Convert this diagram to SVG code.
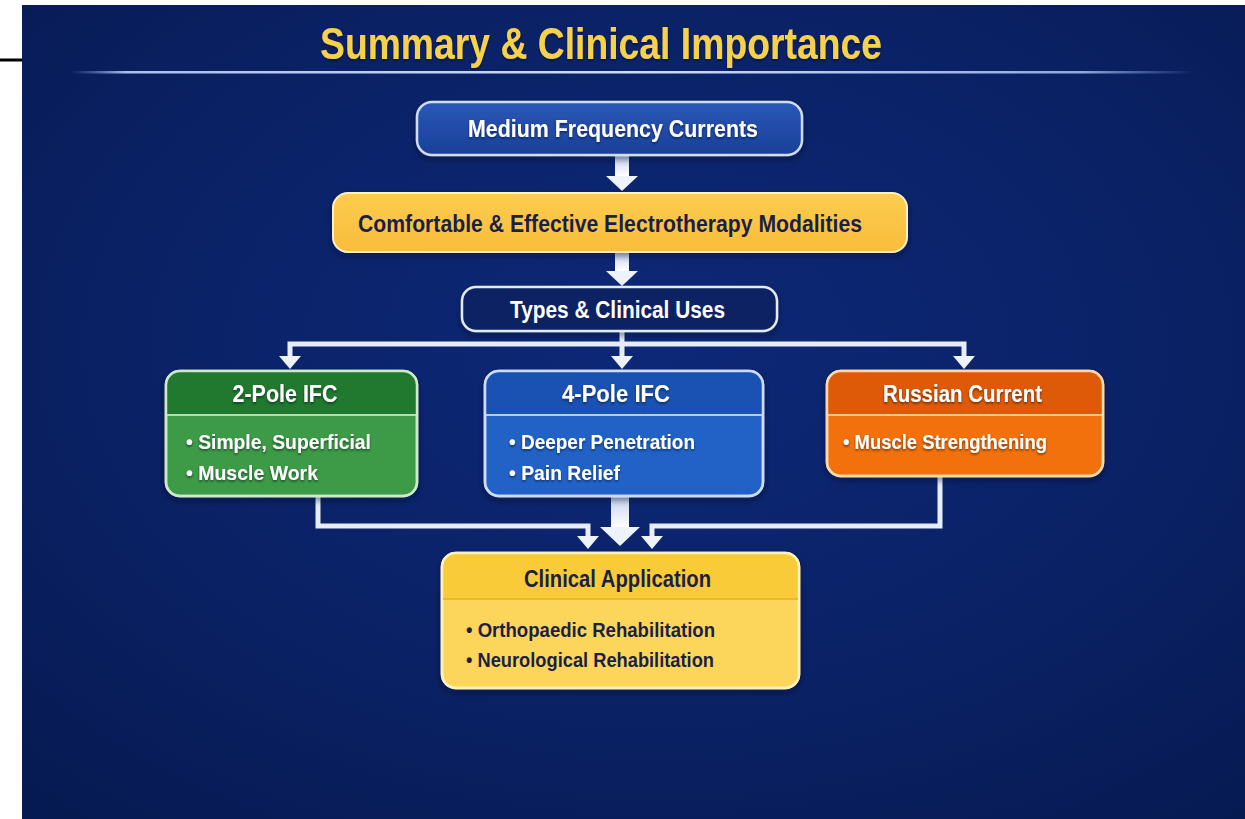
<svg xmlns="http://www.w3.org/2000/svg" width="1245" height="819" viewBox="0 0 1245 819">
  <defs>
    <radialGradient id="bg" cx="0.52" cy="0.42" r="0.75">
      <stop offset="0" stop-color="#0d2878"/>
      <stop offset="0.6" stop-color="#0a2164"/>
      <stop offset="1" stop-color="#061a52"/>
    </radialGradient>
    <linearGradient id="rule" x1="0" y1="0" x2="1" y2="0">
      <stop offset="0" stop-color="#7a9ad8" stop-opacity="0"/>
      <stop offset="0.05" stop-color="#a8c0ee"/>
      <stop offset="0.5" stop-color="#d0dcf8"/>
      <stop offset="0.9" stop-color="#8fa8e0"/>
      <stop offset="1" stop-color="#7a9ad8" stop-opacity="0"/>
    </linearGradient>
    <linearGradient id="gBlue1" x1="0" y1="0" x2="0" y2="1">
      <stop offset="0" stop-color="#2a58b8"/>
      <stop offset="1" stop-color="#1a3f98"/>
    </linearGradient>
    <linearGradient id="gYellow" x1="0" y1="0" x2="0" y2="1">
      <stop offset="0" stop-color="#fdcc50"/>
      <stop offset="1" stop-color="#f8bd3a"/>
    </linearGradient>
    <linearGradient id="gArrow" x1="0" y1="0" x2="0" y2="1">
      <stop offset="0" stop-color="#c8d4ee"/>
      <stop offset="1" stop-color="#ffffff"/>
    </linearGradient>
    <filter id="shadow" x="-10%" y="-20%" width="120%" height="150%">
      <feDropShadow dx="0" dy="3" stdDeviation="3" flood-color="#000820" flood-opacity="0.5"/>
    </filter>
    <filter id="tshadow" x="-5%" y="-20%" width="110%" height="150%">
      <feDropShadow dx="0" dy="1.5" stdDeviation="1" flood-color="#000820" flood-opacity="0.6"/>
    </filter>
  </defs>
  <style>
    text { font-family: "Liberation Sans", Arial, sans-serif; font-weight: bold; }
    .title { font-size: 44px; fill: #f6d14c; }
    .head { font-size: 23px; text-anchor: middle; }
    .w { fill: #ffffff; }
    .d { fill: #1c1f45; }
    .bul { font-size: 21px; }
    .conn { fill: none; stroke: #e6ecf8; stroke-width: 5; stroke-linejoin: miter; }
    .ah { fill: #eef2fb; }
  </style>

  <rect x="0" y="0" width="1245" height="819" fill="#ffffff"/>
  <rect x="22" y="5" width="1223" height="814" fill="url(#bg)"/>
  <line x1="0" y1="60" x2="22" y2="60" stroke="#000000" stroke-width="3"/>

  <g id="title">
    <text class="title" x="320" y="59" textLength="562" lengthAdjust="spacingAndGlyphs" filter="url(#tshadow)">Summary &amp; Clinical Importance</text>
    <rect x="70" y="71" width="1125" height="2.5" fill="url(#rule)"/>
  </g>

  <g id="connectors">
    <rect x="615" y="156" width="14" height="20" fill="url(#gArrow)"/>
    <polygon class="ah" points="606,176 638,176 622,191"/>
    <rect x="615" y="253" width="14" height="18" fill="url(#gArrow)"/>
    <polygon class="ah" points="606,271 638,271 622,286"/>
    <polyline class="conn" points="622,331 622,344"/>
    <polyline class="conn" points="290,357 290,344 964,344 964,357"/>
    <line class="conn" x1="622" y1="344" x2="622" y2="357"/>
    <polygon class="ah" points="279,356 301,356 290,369"/>
    <polygon class="ah" points="611,356 633,356 622,369"/>
    <polygon class="ah" points="953,356 975,356 964,369"/>
    <polyline class="conn" points="318,497 318,526 588,526 588,537"/>
    <polygon class="ah" points="577,536 599,536 588,549"/>
    <polyline class="conn" points="940,477 940,526 652,526 652,537"/>
    <polygon class="ah" points="641,536 663,536 652,549"/>
    <rect x="611" y="497" width="18" height="31" fill="url(#gArrow)"/>
    <polygon class="ah" points="600,527 640,527 620,546"/>
  </g>

  <g id="node-medium">
    <rect x="417" y="102" width="385" height="53" rx="15" fill="url(#gBlue1)" stroke="#cfdcf4" stroke-width="2.5" filter="url(#shadow)"/>
    <text class="head w" x="613" y="137" textLength="290" lengthAdjust="spacingAndGlyphs" filter="url(#tshadow)">Medium Frequency Currents</text>
  </g>

  <g id="node-comfortable">
    <rect x="333" y="193" width="574" height="59" rx="15" fill="url(#gYellow)" stroke="#fff0c8" stroke-width="2" filter="url(#shadow)"/>
    <text class="head d" x="610" y="232" textLength="504" lengthAdjust="spacingAndGlyphs">Comfortable &amp; Effective Electrotherapy Modalities</text>
  </g>

  <g id="node-types">
    <rect x="462" y="287" width="315" height="44" rx="14" fill="#0b2062" stroke="#e2e9f8" stroke-width="2.5" filter="url(#shadow)"/>
    <text class="head w" x="617.5" y="318" textLength="215" lengthAdjust="spacingAndGlyphs">Types &amp; Clinical Uses</text>
  </g>

  <g id="node-2pole">
    <rect x="166" y="371" width="251" height="125" rx="14" fill="#3e9a47" stroke="#cfe8c8" stroke-width="2.5" filter="url(#shadow)"/>
    <path d="M166,415 V385 a14,14 0 0 1 14,-14 H403 a14,14 0 0 1 14,14 V415 Z" fill="#20792f"/>
    <rect x="166" y="371" width="251" height="125" rx="14" fill="none" stroke="#cfe8c8" stroke-width="2.5"/>
    <line x1="167" y1="415" x2="416" y2="415" stroke="#b8dcb0" stroke-width="2"/>
    <text class="head w" x="285" y="402" textLength="105" lengthAdjust="spacingAndGlyphs" filter="url(#tshadow)">2-Pole IFC</text>
    <text class="bul w" x="186" y="449" textLength="185" lengthAdjust="spacingAndGlyphs" filter="url(#tshadow)">• Simple, Superficial</text>
    <text class="bul w" x="186" y="480" textLength="132" lengthAdjust="spacingAndGlyphs" filter="url(#tshadow)">• Muscle Work</text>
  </g>

  <g id="node-4pole">
    <rect x="485" y="371" width="278" height="125" rx="14" fill="#2262c6" stroke="#cddcf4" stroke-width="2.5" filter="url(#shadow)"/>
    <path d="M485,415 V385 a14,14 0 0 1 14,-14 H749 a14,14 0 0 1 14,14 V415 Z" fill="#1a52b4"/>
    <rect x="485" y="371" width="278" height="125" rx="14" fill="none" stroke="#cddcf4" stroke-width="2.5"/>
    <line x1="486" y1="415" x2="762" y2="415" stroke="#b8ccf0" stroke-width="2"/>
    <text class="head w" x="616" y="402" textLength="108" lengthAdjust="spacingAndGlyphs" filter="url(#tshadow)">4-Pole IFC</text>
    <text class="bul w" x="509" y="449" textLength="186" lengthAdjust="spacingAndGlyphs" filter="url(#tshadow)">• Deeper Penetration</text>
    <text class="bul w" x="509" y="480" textLength="111" lengthAdjust="spacingAndGlyphs" filter="url(#tshadow)">• Pain Relief</text>
  </g>

  <g id="node-russian">
    <rect x="827" y="371" width="276" height="105" rx="14" fill="#f27110" stroke="#ffd9a8" stroke-width="2.5" filter="url(#shadow)"/>
    <path d="M827,415 V385 a14,14 0 0 1 14,-14 H1089 a14,14 0 0 1 14,14 V415 Z" fill="#de5a08"/>
    <rect x="827" y="371" width="276" height="105" rx="14" fill="none" stroke="#ffd9a8" stroke-width="2.5"/>
    <line x1="828" y1="415" x2="1102" y2="415" stroke="#ffc88a" stroke-width="2"/>
    <text class="head w" x="962.5" y="402" textLength="159" lengthAdjust="spacingAndGlyphs" filter="url(#tshadow)">Russian Current</text>
    <text class="bul w" x="843" y="449" textLength="204" lengthAdjust="spacingAndGlyphs" filter="url(#tshadow)">• Muscle Strengthening</text>
  </g>

  <g id="node-clinical">
    <rect x="442" y="553" width="357" height="135" rx="14" fill="#fcd65a" stroke="#fff0c0" stroke-width="2.5" filter="url(#shadow)"/>
    <path d="M442,599 V567 a14,14 0 0 1 14,-14 H785 a14,14 0 0 1 14,14 V599 Z" fill="#f9cb38"/>
    <rect x="442" y="553" width="357" height="135" rx="14" fill="none" stroke="#fff0c0" stroke-width="2.5"/>
    <line x1="443" y1="599" x2="798" y2="599" stroke="#e8b830" stroke-width="2"/>
    <text class="head d" x="617.5" y="587" textLength="187" lengthAdjust="spacingAndGlyphs">Clinical Application</text>
    <text class="bul d" x="466" y="637" textLength="249" lengthAdjust="spacingAndGlyphs">• Orthopaedic Rehabilitation</text>
    <text class="bul d" x="466" y="667" textLength="248" lengthAdjust="spacingAndGlyphs">• Neurological Rehabilitation</text>
  </g>
</svg>
